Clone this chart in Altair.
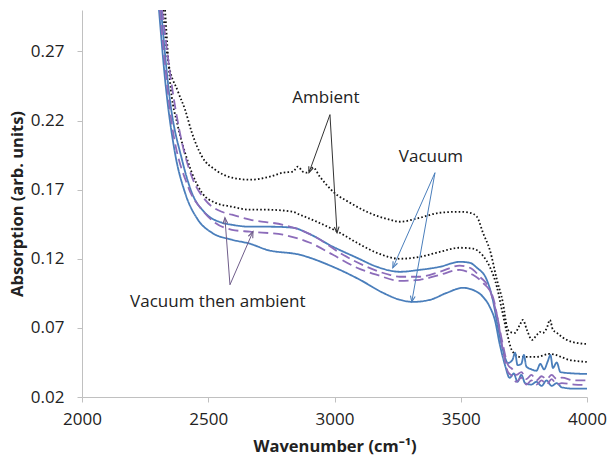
import math
import altair as alt
import pandas as pd

# ---------------- data ----------------
amb1_x = [2321, 2340, 2380, 2408, 2435, 2475, 2527, 2594, 2665, 2744, 2796, 2835, 2855, 2875, 2891,
          2915, 2942, 2994, 3061, 3128, 3219, 3259, 3338, 3417, 3496, 3536, 3564, 3588, 3615, 3643,
          3667, 3683, 3694, 3714, 3734, 3746, 3762, 3782, 3801, 3813, 3825, 3841, 3853, 3865, 3881,
          3900, 3920, 3960, 3999]
amb1_y = [0.300, 0.2642, 0.241, 0.228, 0.2113, 0.194, 0.1845, 0.1787, 0.1772, 0.1794, 0.1823, 0.183,
          0.1867, 0.183, 0.1823, 0.186, 0.1794, 0.1686, 0.1606, 0.154, 0.1483, 0.1468, 0.1497, 0.1533,
          0.154, 0.1533, 0.1504, 0.1388, 0.1265, 0.105, 0.0881, 0.0707, 0.0671, 0.0664, 0.0722, 0.0758,
          0.0686, 0.0613, 0.0649, 0.0671, 0.0664, 0.070, 0.0758, 0.0686, 0.0664, 0.0635, 0.0613,
          0.0591, 0.0584]

amb2_x = [2329, 2348, 2380, 2408, 2435, 2475, 2527, 2594, 2665, 2732, 2835, 2863, 2930, 3021, 3089,
          3168, 3259, 3338, 3417, 3496, 3548, 3588, 3615, 3643, 3663, 3683, 3702, 3734, 3801, 3853,
          3932, 3999]
amb2_y = [0.300, 0.2497, 0.2157, 0.1968, 0.1823, 0.1678, 0.1606, 0.1577, 0.1555, 0.1555, 0.154,
          0.1519, 0.1468, 0.1388, 0.1316, 0.1243, 0.120, 0.1214, 0.125, 0.128, 0.1273, 0.1222, 0.1142,
          0.0997, 0.083, 0.0664, 0.054, 0.049, 0.049, 0.0512, 0.0468, 0.0454]

vac1_x = [2313, 2348, 2396, 2435, 2487, 2554, 2594, 2665, 2744, 2835, 2891, 2994, 3089, 3168, 3259,
          3338, 3417, 3496, 3536, 3564, 3603, 3627, 3647, 3667, 3687, 3705, 3715, 3725, 3740, 3750,
          3760, 3780, 3800, 3815, 3830, 3845, 3855, 3865, 3880, 3895, 3950, 4000]
vac1_y = [0.300, 0.2352, 0.1917, 0.1678, 0.1533, 0.1461, 0.1446, 0.1432, 0.1432, 0.1425, 0.1388,
          0.1287, 0.1207, 0.1142, 0.1106, 0.112, 0.1142, 0.1178, 0.1171, 0.1135, 0.1048, 0.0903,
          0.0707, 0.054, 0.0446, 0.047, 0.052, 0.043, 0.044, 0.0504, 0.042, 0.040, 0.039, 0.044, 0.040,
          0.046, 0.0504, 0.041, 0.045, 0.038, 0.037, 0.0367]

vac2_x = [2305, 2329, 2368, 2408, 2459, 2515, 2594, 2665, 2732, 2863, 2994, 3101, 3192, 3259, 3310,
          3378, 3445, 3508, 3548, 3588, 3615, 3635, 3655, 3675, 3694, 3710, 3725, 3740, 3755, 3780,
          3800, 3820, 3840, 3860, 3880, 3900, 3950, 4000]
vac2_y = [0.300, 0.2497, 0.1968, 0.1678, 0.1483, 0.1388, 0.1338, 0.1309, 0.1265, 0.1229, 0.1142,
          0.1048, 0.0954, 0.0903, 0.0888, 0.0903, 0.0954, 0.099, 0.0975, 0.0925, 0.0852, 0.0758,
          0.0577, 0.0432, 0.0338, 0.037, 0.031, 0.036, 0.030, 0.029, 0.031, 0.028, 0.032, 0.028,
          0.030, 0.027, 0.026, 0.026]

va1_x = [2317, 2360, 2396, 2435, 2487, 2554, 2594, 2665, 2796, 2863, 2930, 3021, 3128, 3219, 3259,
         3338, 3417, 3496, 3536, 3576, 3615, 3643, 3667, 3687, 3705, 3720, 3740, 3760, 3780, 3800,
         3820, 3840, 3860, 3880, 3900, 3950, 4000]
va1_y = [0.300, 0.240, 0.204, 0.1794, 0.1628, 0.154, 0.1519, 0.1483, 0.1446, 0.141, 0.1352, 0.1243,
         0.1142, 0.1084, 0.107, 0.107, 0.1106, 0.115, 0.1135, 0.107, 0.0975, 0.0794, 0.0577, 0.0432,
         0.040, 0.036, 0.038, 0.033, 0.036, 0.032, 0.035, 0.033, 0.036, 0.033, 0.034, 0.032, 0.032]

va2_x = [2309, 2348, 2420, 2475, 2527, 2594, 2665, 2796, 2903, 2994, 3089, 3168, 3259, 3338, 3417,
         3496, 3548, 3588, 3627, 3647, 3667, 3687, 3705, 3720, 3740, 3760, 3780, 3800, 3820, 3840,
         3860, 3880, 3900, 3950, 4000]
va2_y = [0.300, 0.228, 0.1722, 0.1555, 0.1461, 0.141, 0.1396, 0.1374, 0.1316, 0.1229, 0.1135,
         0.1084, 0.104, 0.1048, 0.1084, 0.112, 0.1084, 0.1026, 0.0925, 0.0758, 0.054, 0.0381, 0.035,
         0.031, 0.034, 0.029, 0.032, 0.029, 0.032, 0.029, 0.033, 0.029, 0.030, 0.029, 0.0287]

series_names = ["Ambient 1", "Ambient 2", "Vacuum 1", "Vacuum 2", "Vacuum then ambient 1", "Vacuum then ambient 2"]
series_data = [(amb1_x, amb1_y), (amb2_x, amb2_y), (vac1_x, vac1_y), (vac2_x, vac2_y),
               (va1_x, va1_y), (va2_x, va2_y)]
series_colors = ["#111111", "#111111", "#4a7ebb", "#4a7ebb", "#8c6cba", "#8c6cba"]
series_dash = [[1.6, 2.2], [1.6, 2.2], [1, 0], [1, 0], [10, 5], [10, 5]]
series_width = [1.8, 1.8, 1.5, 1.5, 2.2, 2.2]

x_ticks = [2000, 2500, 3000, 3500, 4000]
y_ticks = [0.02, 0.07, 0.12, 0.17, 0.22, 0.27]
x_domain = [2000, 4000]
y_domain = [0.02, 0.30]

# annotations: label text position and arrows (start -> end) in data units
labels = ["Ambient", "Vacuum", "Vacuum then ambient"]
label_x = [2966, 3382, 2538]
label_y = [0.236, 0.194, 0.0888]

arrow_x = [2982, 2982, 3398, 3398, 2586, 2586]
arrow_y = [0.2243, 0.2243, 0.1823, 0.1823, 0.1012, 0.1012]
arrow_x2 = [2899, 3010, 3231, 3306, 2566, 2677]
arrow_y2 = [0.1823, 0.1388, 0.1135, 0.0888, 0.1497, 0.1396]
arrow_group = ["a", "a", "v", "v", "t", "t"]
arrow_colors = {"a": "#333333", "v": "#4a7ebb", "t": "#6f5d8a"}

# ---------------- build ----------------
W, H = 505, 387
rows = []
for name, (xs, ys) in zip(series_names, series_data):
    for xv, yv in zip(xs, ys):
        rows.append({"series": name, "x": xv, "y": yv})
df = pd.DataFrame(rows)

xs_scale = alt.Scale(domain=x_domain, nice=False, zero=False)
ys_scale = alt.Scale(domain=y_domain, nice=False, zero=False)

font = "Open Sans"

lines = alt.Chart(df).mark_line(clip=True, interpolate="monotone").encode(
    x=alt.X("x:Q", scale=xs_scale,
            axis=alt.Axis(values=x_ticks, format="d", title="Wavenumber (cm⁻¹)", labelFlush=False)),
    y=alt.Y("y:Q", scale=ys_scale,
            axis=alt.Axis(values=y_ticks, format=".2f", title="Absorption (arb. units)", labelFlush=False)),
    color=alt.Color("series:N", scale=alt.Scale(domain=series_names, range=series_colors), legend=None),
    strokeDash=alt.StrokeDash("series:N", scale=alt.Scale(domain=series_names, range=series_dash), legend=None),
    strokeWidth=alt.StrokeWidth("series:N", scale=alt.Scale(domain=series_names, range=series_width), legend=None),
    detail="series:N",
)

adf = pd.DataFrame({"x": arrow_x, "y": arrow_y, "x2": arrow_x2, "y2": arrow_y2, "g": arrow_group})
adf["col"] = adf["g"].map(arrow_colors)
angles = []
for i in range(len(adf)):
    dx = (adf.x2[i] - adf.x[i]) * W / (x_domain[1] - x_domain[0])
    dy = -(adf.y2[i] - adf.y[i]) * H / (y_domain[1] - y_domain[0])
    angles.append(math.degrees(math.atan2(dx, -dy)) % 360)
adf["angle"] = angles

arrow_lines = alt.Chart(adf).mark_rule(strokeWidth=1).encode(
    x="x:Q", y="y:Q", x2="x2:Q", y2="y2:Q",
    color=alt.Color("col:N", scale=None),
)
arrow_heads = alt.Chart(adf).mark_point(
    shape="M -0.6 1.5 L 0 0 L 0.6 1.5", filled=False, size=64, opacity=1, strokeWidth=1.1
).encode(
    x="x2:Q", y="y2:Q",
    angle=alt.Angle("angle:Q", scale=None),
    color=alt.Color("col:N", scale=None),
)

ldf = pd.DataFrame({"label": labels, "x": label_x, "y": label_y})
texts = alt.Chart(ldf).mark_text(font=font, fontSize=17, color="#222222").encode(
    x="x:Q", y="y:Q", text="label:N"
)

chart = alt.layer(lines, arrow_lines, arrow_heads, texts).properties(
    width=W, height=H,
    autosize=alt.AutoSizeParams(type="none"),
    padding={"left": 82, "top": 10, "right": 22, "bottom": 64},
    background="white",
).configure_view(stroke=None).configure_axis(
    grid=False,
    domainColor="#c0c0c0",
    tickColor="#c0c0c0",
    tickSize=5,
    labelFont=font,
    labelFontSize=17,
    labelColor="#222222",
    titleFont=font,
    titleFontSize=16.5,
    titleFontWeight="bold",
    titleColor="#222222",
).configure_axisX(
    labelPadding=9,
    titlePadding=11,
).configure_axisY(
    labelPadding=13,
    titlePadding=5,
)

chart.save("out.html", embed_options={"renderer": "svg", "actions": False})
